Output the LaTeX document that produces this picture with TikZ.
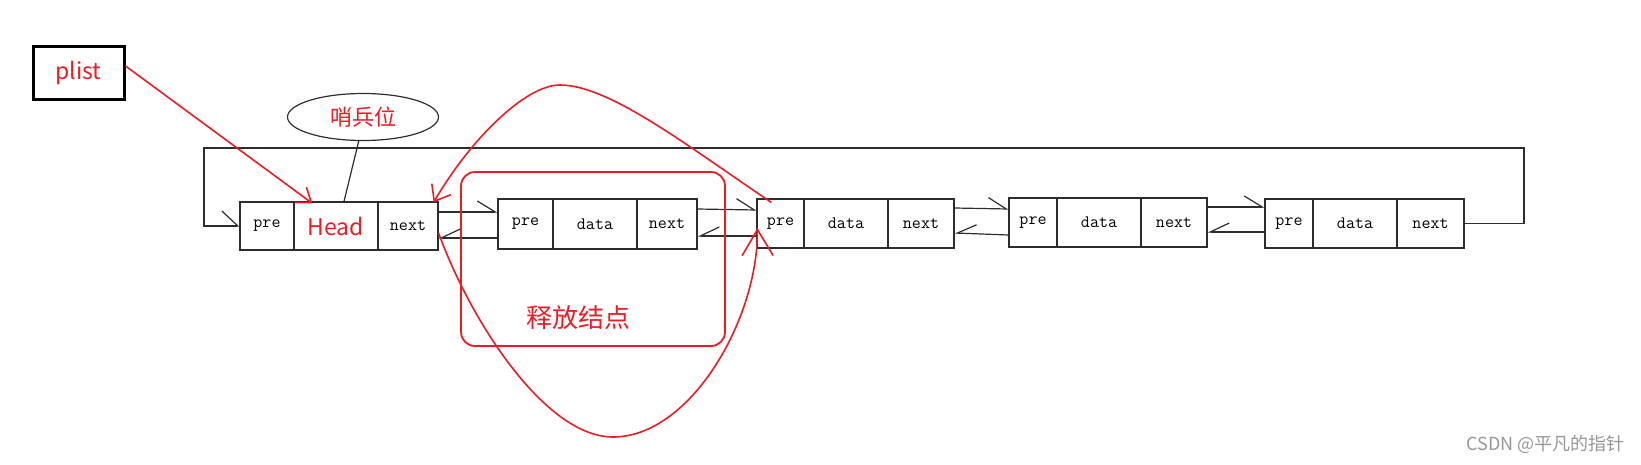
\documentclass[tikz,border=0pt]{standalone}
\usepackage{fontspec}
\newfontfamily\cjk{Noto Sans CJK SC}
\usetikzlibrary{arrows.meta,shapes.geometric}
\definecolor{pred}{RGB}{237,28,36}
\definecolor{blk}{RGB}{45,45,45}
\definecolor{wm}{RGB}{150,150,150}
\tikzset{
  cell/.style={draw=blk, line width=1.2pt, inner sep=0pt, font=\ttfamily\fontsize{17.5}{19}\selectfont, text=black},
  blkline/.style={draw=blk, line width=1.2pt},
  redline/.style={draw=pred, line width=1.6pt},
  harpTop/.style={-{Straight Barb[harpoon, length=18pt, width=22pt]}},
  harpBot/.style={-{Straight Barb[harpoon, swap, length=19pt, width=18pt]}},
  harpLoop/.style={-{Straight Barb[harpoon, length=16pt, width=30pt]}},
  redtxt/.style={text=pred, inner sep=0pt},
}
\begin{document}
\begin{tikzpicture}[x=1pt,y=-1pt]
\useasboundingbox (0,0) rectangle (1641,464);

% plist box
\node[draw=black, line width=3pt, minimum width=91pt, minimum height=53pt, inner sep=0pt,
      font=\cjk\fontsize{23}{25}\selectfont, text=pred] (plist) at (78.5,72.5) {plist};

% sentinel ellipse
\node[ellipse, draw=blk, line width=1.2pt, minimum width=151pt, minimum height=47pt, inner sep=0pt,
      font=\cjk\fontsize{22}{24}\selectfont, text=pred] (ell) at (363,117) {哨兵位};

% Head node
\node[cell, minimum width=54pt, minimum height=48pt] (hp) at (267,226) {pre};
\node[cell, minimum width=84pt, minimum height=48pt, font=\cjk\fontsize{23}{25}\selectfont, text=pred] (hd) at (336,226) {Head};
\node[cell, minimum width=60pt, minimum height=48pt] (hn) at (408,226) {next};

% node 2
\node[cell, minimum width=55pt, minimum height=50pt] (n2p) at (525.5,224) {pre};
\node[cell, minimum width=84pt, minimum height=50pt] (n2d) at (595,224) {data};
\node[cell, minimum width=60pt, minimum height=50pt] (n2n) at (667,224) {next};

% node 3
\node[cell, minimum width=47pt, minimum height=49pt] (n3p) at (780.5,223.5) {pre};
\node[cell, minimum width=84pt, minimum height=49pt] (n3d) at (846,223.5) {data};
\node[cell, minimum width=66pt, minimum height=49pt] (n3n) at (921,223.5) {next};

% node 4
\node[cell, minimum width=48pt, minimum height=49pt] (n4p) at (1033,222.5) {pre};
\node[cell, minimum width=84pt, minimum height=49pt] (n4d) at (1099,222.5) {data};
\node[cell, minimum width=66pt, minimum height=49pt] (n4n) at (1174,222.5) {next};

% node 5
\node[cell, minimum width=48pt, minimum height=49pt] (n5p) at (1289,223.5) {pre};
\node[cell, minimum width=84pt, minimum height=49pt] (n5d) at (1355,223.5) {data};
\node[cell, minimum width=67pt, minimum height=49pt] (n5n) at (1430.5,223.5) {next};

% sentinel line
\draw[blkline] (ell.-100) -- ([xshift=8pt]hd.north);

% links
\draw[blkline, harpTop] ([yshift=14pt]hn.east) -- ([yshift=12pt]n2p.west);
\draw[blkline, harpBot] ([yshift=-14pt]n2p.west) -- ([yshift=-12pt]hn.east);
\draw[blkline, harpTop] ([yshift=15pt]n2n.east) -- ([yshift=13.5pt]n3p.west);
\draw[blkline, harpBot] ([yshift=-12.5pt]n3p.west) -- ([yshift=-12pt]n2n.east);
\draw[blkline, harpTop] ([yshift=15.5pt]n3n.east) -- ([yshift=13.5pt]n4p.west);
\draw[blkline, harpBot] ([yshift=-12.5pt]n4p.west) -- ([yshift=-9.5pt]n3n.east);
\draw[blkline, harpTop] ([yshift=15.5pt]n4n.east) -- ([yshift=16.5pt]n5p.west);
\draw[blkline, harpBot] ([yshift=-8.5pt]n5p.west) -- ([yshift=-9.5pt]n4n.east);

% circular loop
\coordinate (lr) at (1524,148);
\coordinate (ll) at (204,148);
\draw[blkline, harpLoop] (n5n.east) -| (lr) -- (ll) |- (hp.west);

% plist arrow
\draw[redline, -{Straight Barb[length=13pt, width=19pt]}] ([yshift=6.5pt]plist.east) -- ([xshift=19pt,yshift=-2pt]hd.north west);

% freed node frame
\node[draw=pred, line width=1.8pt, rounded corners=14pt, minimum width=264pt, minimum height=174pt, inner sep=0pt] (frame) at (593,259) {};
\node[redtxt, font=\cjk\fontsize{26}{28}\selectfont] (frtxt) at (578,318) {释放结点};

% red curves
\coordinate (ctop) at (560,85);
\coordinate (cbot) at (613,437);
\draw[redline, -{Straight Barb[length=14pt, width=22pt]}]
  ([xshift=15pt,yshift=-4pt]n3p.north west) .. controls (690,148) and (610,85) .. (ctop)
  .. controls (525,85) and (470,140) .. ([xshift=-5pt,yshift=-1pt]hn.north east);
\draw[redline, -{Straight Barb[length=26pt, width=31pt]}]
  ([yshift=-7pt]hn.east) .. controls (470,320) and (545,437) .. (cbot)
  .. controls (690,437) and (758,320) .. ([xshift=1pt,yshift=-4.5pt]n3p.west);

% watermark
\node[text=wm, inner sep=0pt, font=\cjk\fontsize{18}{20}\selectfont, anchor=east] (wmk) at (1625,444) {CSDN @平凡的指针};
\end{tikzpicture}
\end{document}
